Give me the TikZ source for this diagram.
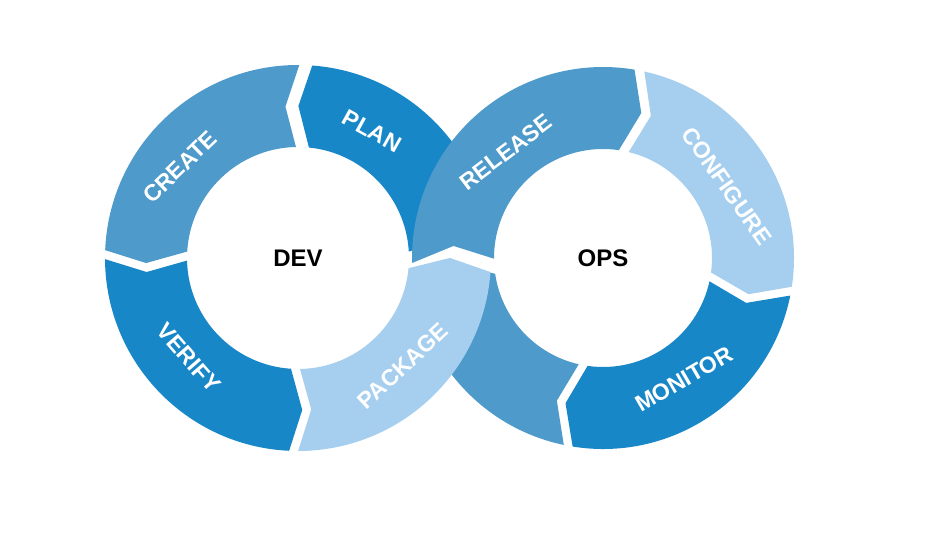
\documentclass[tikz,border=0pt]{standalone}
\usepackage{fontspec}
\setmainfont{Liberation Sans}
\definecolor{dkblue}{HTML}{1887C8}
\definecolor{mdblue}{HTML}{4E9ACB}
\definecolor{ltblue}{HTML}{A6CFEF}
% ring parameters: cx, cy, inner r, outer r, travel sign, chevron depth (deg)
\newcommand\ringsetup[6]{\def\RCx{#1}\def\RCy{#2}\def\RRi{#3}\def\RRo{#4}\def\RS{#5}\def\RD{#6}}
% segment: tail angle, tail half-gap, head angle, head half-gap, colour
\newcommand\ringseg[5]{%
  \pgfmathsetmacro\RRm{(\RRi+\RRo)/2}%
  \pgfmathsetmacro\SaO{#1+\RS*#2/\RRo*57.2958}%
  \pgfmathsetmacro\SaM{#1+\RS*\RD+\RS*#2/\RRm*57.2958}%
  \pgfmathsetmacro\SaI{#1+\RS*#2/\RRi*57.2958}%
  \pgfmathsetmacro\SbO{#3-\RS*#4/\RRo*57.2958}%
  \pgfmathsetmacro\SbM{#3+\RS*\RD-\RS*#4/\RRm*57.2958}%
  \pgfmathsetmacro\SbI{#3-\RS*#4/\RRi*57.2958}%
  \fill[#5, shift={(\RCx,\RCy)}] (\SaO:\RRo)
    arc[start angle=\SaO, end angle=\SbO, radius=\RRo]
    -- (\SbM:\RRm) -- (\SbI:\RRi)
    arc[start angle=\SbI, end angle=\SaI, radius=\RRi]
    -- (\SaM:\RRm) -- cycle;
}
\tikzset{
  seglabel/.style={text=white, font=\fontsize{23}{26}\selectfont\bfseries, inner sep=0pt},
  hublabel/.style={text=black, font=\fontsize{24}{28}\selectfont\bfseries, inner sep=0pt}
}
\begin{document}
\begin{tikzpicture}[x=1pt,y=1pt]
\useasboundingbox (0,0) rectangle (928,556);
\fill[white] (0,0) rectangle (928,556);
% hidden-under segments first
\ringsetup{298}{298}{111}{193}{1}{4.6}
\ringseg{1}{4.5}{87.7}{6.5}{dkblue}           % PLAN
\ringsetup{603}{298}{109}{191}{-1}{5.7}
\ringseg{-100.5}{4.5}{-174}{4.5}{mdblue}      % unlabeled
% DEV ring
\ringsetup{298}{298}{111}{193}{1}{4.6}
\ringseg{87.7}{6.5}{179}{4.5}{mdblue}         % CREATE
\ringseg{179}{4.5}{268.7}{4.5}{dkblue}        % VERIFY
% OPS ring
\ringsetup{603}{298}{109}{191}{-1}{5.7}
\ringseg{79}{5}{-10}{4.5}{ltblue}             % CONFIGURE
\ringseg{-10}{4.5}{-100.5}{4.5}{dkblue}       % MONITOR
\ringseg{183}{5}{79}{5}{mdblue}               % RELEASE
% PACKAGE on top
\ringsetup{298}{298}{111}{193}{1}{4.6}
\ringseg{268.7}{4.5}{357.3}{5}{ltblue}        % PACKAGE
% labels
\node[seglabel, rotate=44]  (create)    at (180,389) {CREATE};
\node[seglabel, rotate=-29] (plan)      at (372,425) {PLAN};
\node[seglabel, rotate=-49] (verify)    at (189,198) {VERIFY};
\node[seglabel, rotate=43]  (package)   at (403,190) {PACKAGE};
\node[seglabel, rotate=37]  (release)   at (506,404) {RELEASE};
\node[seglabel, rotate=-55] (configure) at (727,370) {CONFIGURE};
\node[seglabel, rotate=30]  (monitor)   at (684,177) {MONITOR};
\node[hublabel] (dev) at (298,298) {DEV};
\node[hublabel] (ops) at (603,298) {OPS};
\end{tikzpicture}
\end{document}
